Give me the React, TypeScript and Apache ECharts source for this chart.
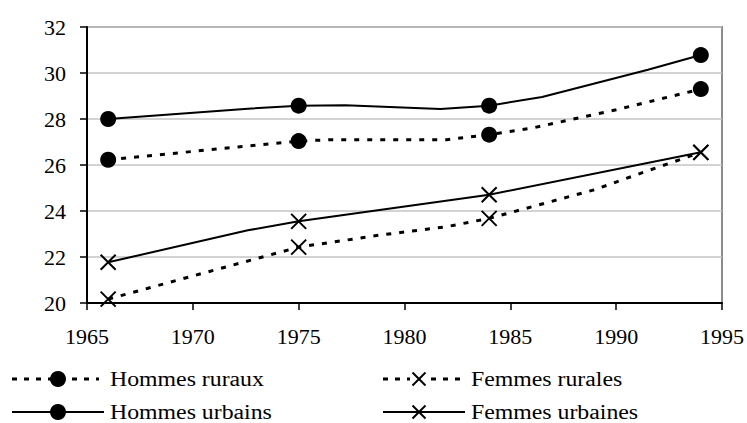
import React, { useEffect, useRef } from "react";
import * as echarts from "echarts";

// Years at which markers are drawn
const markerYears = [1966, 1975, 1984, 1994];

// Hommes ruraux (dashed, circles)
const hommesRurauxYears = [1966, 1975, 1976.5, 1982, 1984, 1986, 1990, 1994];
const hommesRurauxValues = [26.23, 27.04, 27.1, 27.1, 27.32, 27.6, 28.4, 29.3];

// Hommes urbains (solid, circles)
const hommesUrbainsYears = [1966, 1972.6, 1975, 1977.2, 1981.7, 1984, 1986.5, 1991.5, 1994];
const hommesUrbainsValues = [28.0, 28.45, 28.58, 28.6, 28.43, 28.58, 28.96, 30.14, 30.78];

// Femmes rurales (dashed, crosses)
const femmesRuralesYears = [1966, 1975, 1978.9, 1982, 1984, 1989, 1991.4, 1994];
const femmesRuralesValues = [20.17, 22.43, 22.96, 23.32, 23.68, 24.93, 25.72, 26.55];

// Femmes urbaines (solid, crosses)
const femmesUrbainesYears = [1966, 1972.6, 1975, 1984, 1994];
const femmesUrbainesValues = [21.77, 23.16, 23.55, 24.71, 26.55];

const legendNames = ["Hommes ruraux", "Femmes rurales", "Hommes urbains", "Femmes urbaines"];

const FONT = "Times New Roman";
const CROSS = "path://M0,0L12,12M12,0L0,12";

function buildData(years: number[], values: number[]) {
  return years.map((y, i) =>
    markerYears.includes(y)
      ? { value: [y, values[i]] }
      : { value: [y, values[i]], symbol: "none" }
  );
}

export default function App() {
  const ref = useRef<HTMLDivElement>(null);

  useEffect(() => {
    if (!ref.current) return;
    const chart = echarts.init(ref.current, undefined, { renderer: "svg" });

    const dashed = { color: "#000", width: 3, type: [5, 8] as any };
    const solid = { color: "#000", width: 2, type: "solid" as any };
    const circleStyle = { color: "#000" };
    const crossStyle = { color: "#000", borderColor: "#000", borderWidth: 2 };

    const legendItem = (
      x0: number,
      x1: number,
      y: number,
      isDashed: boolean,
      isCircle: boolean,
      markX: number,
      textX: number,
      text: string
    ) => {
      const els: any[] = [
        {
          type: "line",
          shape: { x1: x0, y1: y, x2: x1, y2: y },
          style: isDashed
            ? { stroke: "#000", lineWidth: 3, lineDash: [5, 7] }
            : { stroke: "#000", lineWidth: 2 },
        },
      ];
      if (isCircle) {
        els.push({ type: "circle", shape: { cx: markX, cy: y, r: 8 }, style: { fill: "#000" } });
      } else {
        if (isDashed) {
          els.push({ type: "rect", shape: { x: markX - 9, y: y - 4, width: 18, height: 8 }, style: { fill: "#fff" } });
        }
        els.push({
          type: "line",
          shape: { x1: markX - 6.5, y1: y - 6.5, x2: markX + 6.5, y2: y + 6.5 },
          style: { stroke: "#000", lineWidth: 2 },
        });
        els.push({
          type: "line",
          shape: { x1: markX + 6.5, y1: y - 6.5, x2: markX - 6.5, y2: y + 6.5 },
          style: { stroke: "#000", lineWidth: 2 },
        });
      }
      els.push({
        type: "text",
        x: textX,
        y: y,
        scaleX: 1.19,
        style: {
          text,
          fill: "#000",
          fontFamily: FONT,
          fontSize: 20,
          verticalAlign: "middle",
        },
      });
      return els;
    };

    const graphic = [
      ...legendItem(12, 99, 379, true, true, 58, 110, legendNames[0]),
      ...legendItem(383, 462, 379, true, false, 419, 471, legendNames[1]),
      ...legendItem(12, 104, 412, false, true, 58, 110, legendNames[2]),
      ...legendItem(383, 465, 412, false, false, 419, 471, legendNames[3]),
    ];

    chart.setOption({
      animation: false,
      backgroundColor: "#fff",
      grid: {
        left: 87,
        right: 20,
        top: 27,
        bottom: 120,
        show: true,
        borderColor: "#8c8c8c",
        borderWidth: 2,
      },
      xAxis: {
        type: "value",
        min: 1965,
        max: 1995,
        interval: 5,
        axisLine: { show: true, lineStyle: { color: "#000", width: 2 } },
        axisTick: { show: true, inside: false, length: 7, lineStyle: { color: "#000", width: 1.5 } },
        splitLine: { show: false },
        axisLabel: {
          color: "#000",
          fontFamily: FONT,
          fontSize: 22,
          margin: 22,
          formatter: (v: number) => String(v),
        },
      },
      yAxis: {
        type: "value",
        min: 20,
        max: 32,
        interval: 2,
        axisLine: { show: true, lineStyle: { color: "#000", width: 2 } },
        axisTick: { show: true, inside: false, length: 7, lineStyle: { color: "#000", width: 1.5 } },
        splitLine: { show: true, lineStyle: { color: "#c4c4c4", width: 1.5 } },
        axisLabel: { color: "#000", fontFamily: FONT, fontSize: 22, margin: 21 },
      },
      graphic,
      series: [
        {
          name: legendNames[0],
          type: "line",
          data: buildData(hommesRurauxYears, hommesRurauxValues),
          symbol: "circle",
          symbolSize: 16,
          lineStyle: dashed,
          itemStyle: circleStyle,
          z: 3,
        },
        {
          name: legendNames[2],
          type: "line",
          data: buildData(hommesUrbainsYears, hommesUrbainsValues),
          symbol: "circle",
          symbolSize: 16,
          lineStyle: solid,
          itemStyle: circleStyle,
          z: 3,
        },
        {
          name: legendNames[1],
          type: "line",
          data: buildData(femmesRuralesYears, femmesRuralesValues),
          symbol: CROSS,
          symbolSize: 15,
          lineStyle: dashed,
          itemStyle: crossStyle,
          z: 3,
        },
        {
          name: legendNames[3],
          type: "line",
          data: buildData(femmesUrbainesYears, femmesUrbainesValues),
          symbol: CROSS,
          symbolSize: 15,
          lineStyle: solid,
          itemStyle: crossStyle,
          z: 3,
        },
      ],
    });

    return () => chart.dispose();
  }, []);

  return (
    <div
      ref={ref}
      style={{ position: "fixed", left: 0, top: 0, width: 747, height: 423, background: "#fff" }}
    />
  );
}
